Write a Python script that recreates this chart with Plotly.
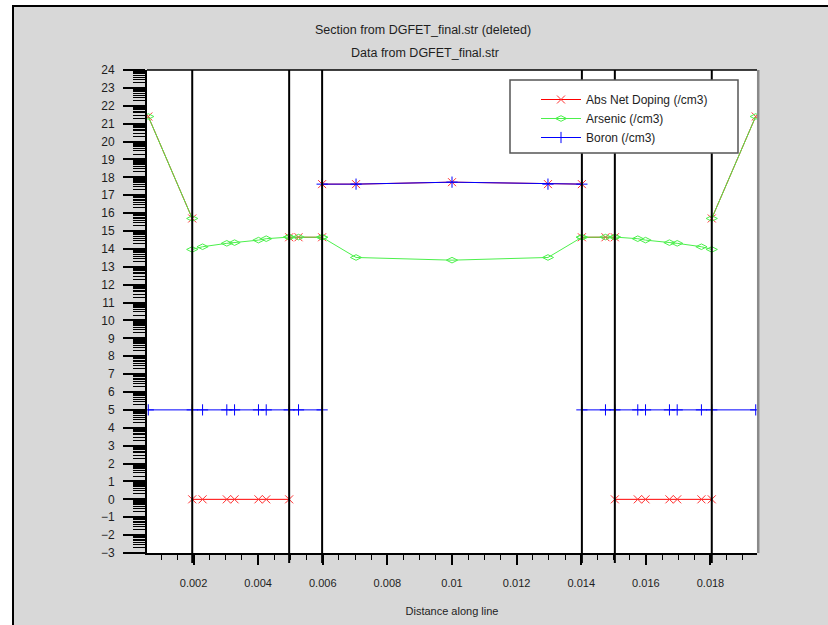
import math
import plotly.graph_objects as go

# ---------------- data (log10 concentration vs distance) ----------------
# None separates regions (breaks the polyline at region boundaries)
x_pts = [0.0006, 0.00196, None,
         0.00196, 0.00228, 0.00303, 0.00327, 0.00401, 0.00425, 0.00496, None,
         0.00496, 0.00525, 0.00598, None,
         0.00598, 0.00703, 0.0100, 0.01297, 0.01402, None,
         0.01402, 0.01475, 0.01504, None,
         0.01504, 0.01575, 0.01599, 0.01673, 0.01697, 0.01772, 0.01804, None,
         0.01804, 0.0194]

abs_net_doping = [21.4, 15.7, None,
                  0, 0, 0, 0, 0, 0, 0, None,
                  14.65, 14.65, 14.65, None,
                  17.62, 17.62, 17.73, 17.62, 17.62, None,
                  14.65, 14.65, 14.65, None,
                  0, 0, 0, 0, 0, 0, 0, None,
                  15.7, 21.4]

arsenic = [21.4, 15.7, None,
           13.97, 14.12, 14.31, 14.35, 14.49, 14.57, 14.66, None,
           14.66, 14.66, 14.65, None,
           14.65, 13.52, 13.37, 13.52, 14.65, None,
           14.65, 14.66, 14.66, None,
           14.66, 14.57, 14.49, 14.35, 14.31, 14.12, 13.97, None,
           15.7, 21.4]

x_boron = [0.0006, 0.00196, 0.00228, 0.00303, 0.00327, 0.00401, 0.00425, 0.00496, 0.00525, 0.00598, None,
           0.00598, 0.00703, 0.0100, 0.01297, 0.01402, None,
           0.01402, 0.01475, 0.01504, 0.01575, 0.01599, 0.01673, 0.01697, 0.01772, 0.01804, 0.0194]
boron = [5, 5, 5, 5, 5, 5, 5, 5, 5, 5, None,
         17.62, 17.62, 17.73, 17.62, 17.62, None,
         5, 5, 5, 5, 5, 5, 5, 5, 5, 5]

region_boundaries = [0.00196, 0.00496, 0.00598, 0.01402, 0.01504, 0.01804]

x_tickvals = [0.002, 0.004, 0.006, 0.008, 0.010, 0.012, 0.014, 0.016, 0.018]
x_ticktext = ["0.002", "0.004", "0.006", "0.008", "0.01", "0.012", "0.014", "0.016", "0.018"]
y_tickvals = list(range(-3, 25))

# ---------------- figure ----------------
W, H = 828, 625
ML, MR, MT, MB = 147, 71, 70, 72
PW, PH = W - ML - MR, H - MT - MB
FONT = "Liberation Sans, Arial, sans-serif"
TXT = "#1e1e1e"

def px(xp):
    return (xp - ML) / PW

def py(yp):
    return (H - MB - yp) / PH

fig = go.Figure()

fig.add_trace(go.Scatter(
    x=x_pts, y=abs_net_doping, name="Abs Net Doping (/cm3)", mode="lines+markers",
    line=dict(color="#ff0000", width=1),
    marker=dict(symbol="x-thin", size=8, color="#ff3030", line=dict(color="#ff3030", width=1)),
))
fig.add_trace(go.Scatter(
    x=x_pts, y=arsenic, name="Arsenic (/cm3)", mode="lines+markers",
    line=dict(color="#4cf04c", width=1),
    marker=dict(symbol="diamond-wide-open", size=8, color="#4cf04c", line=dict(color="#4cf04c", width=1)),
))
fig.add_trace(go.Scatter(
    x=x_boron, y=boron, name="Boron (/cm3)", mode="lines+markers",
    line=dict(color="#0000ff", width=1),
    marker=dict(symbol="cross-thin", size=8, color="#0000ff", line=dict(color="#0000ff", width=1)),
))

# minor log ticks on the y axis
y_minor = []
for k in range(-3, 24):
    for m in range(2, 10):
        y_minor.append(k + math.log10(m))

shapes = []
# white margin outside the window frame
shapes.append(dict(type="rect", xref="paper", yref="paper", x0=px(-5), x1=px(12), y0=py(H + 5), y1=py(-5),
                   fillcolor="white", line=dict(width=0), layer="below"))
shapes.append(dict(type="rect", xref="paper", yref="paper", x0=px(-5), x1=px(W + 5), y0=py(5), y1=py(-5),
                   fillcolor="white", line=dict(width=0), layer="below"))
# window frame lines
shapes.append(dict(type="line", xref="paper", yref="paper", x0=px(12), x1=px(W + 5), y0=py(6), y1=py(6),
                   line=dict(color="black", width=2)))
shapes.append(dict(type="line", xref="paper", yref="paper", x0=px(13), x1=px(13), y0=py(5), y1=py(H + 5),
                   line=dict(color="black", width=2)))
# plot frame: top black, right gray
shapes.append(dict(type="line", xref="paper", yref="paper", x0=0, x1=1, y0=1, y1=1,
                   line=dict(color="black", width=1.5)))
shapes.append(dict(type="line", xref="paper", yref="paper", x0=1.002, x1=1.002, y0=0, y1=1,
                   line=dict(color="#8a8a8a", width=2.5)))
# region boundaries
for b in region_boundaries:
    shapes.append(dict(type="line", xref="x", yref="paper", x0=b, x1=b, y0=py(563), y1=1,
                       line=dict(color="black", width=2), layer="above"))
# legend frame (the legend entries are drawn on top of it)
shapes.append(dict(type="rect", xref="paper", yref="paper", x0=px(510), x1=px(738), y0=py(153), y1=py(80),
                   fillcolor="white", line=dict(color="#555555", width=1.5), layer="above"))

fig.update_layout(
    width=W, height=H,
    margin=dict(l=ML, r=MR, t=MT, b=MB, autoexpand=False),
    paper_bgcolor="#d8d8d8",
    plot_bgcolor="white",
    font=dict(family=FONT, size=11, color=TXT),
    shapes=shapes,
    showlegend=True,
    legend=dict(
        x=px(536), y=py(85), xanchor="left", yanchor="top",
        bgcolor="rgba(0,0,0,0)", borderwidth=0,
        font=dict(family=FONT, size=12, color=TXT),
        itemwidth=40, tracegroupgap=0,
    ),
    annotations=[
        dict(text="Section from DGFET_final.str (deleted)", xref="paper", yref="paper",
             x=px(423), y=py(30), xanchor="center", yanchor="middle", showarrow=False,
             font=dict(family=FONT, size=12.5, color=TXT)),
        dict(text="Data from DGFET_final.str", xref="paper", yref="paper",
             x=px(425), y=py(53), xanchor="center", yanchor="middle", showarrow=False,
             font=dict(family=FONT, size=12.5, color=TXT)),
    ],
)

fig.update_xaxes(
    range=[0.00056, 0.01944], showgrid=False, zeroline=False,
    showline=True, linecolor="black", linewidth=2,
    tickmode="array", tickvals=x_tickvals, ticktext=x_ticktext,
    ticks="outside", ticklen=10, tickwidth=2, tickcolor="black",
    ticklabelstandoff=9,
    tickfont=dict(family=FONT, size=11, color=TXT),
    minor=dict(ticks="outside", ticklen=5, tickwidth=1, tickcolor="black",
               tickmode="linear", tick0=0, dtick=0.0005, showgrid=False),
    title=dict(text="Distance along line", font=dict(family=FONT, size=11, color=TXT), standoff=19),
    automargin=False,
)
fig.update_yaxes(
    range=[-3, 24], showgrid=False, zeroline=False,
    showline=True, linecolor="black", linewidth=2,
    tickmode="array", tickvals=y_tickvals,
    ticks="outside", ticklen=22, tickwidth=2, tickcolor="black",
    ticklabelstandoff=6,
    tickfont=dict(family=FONT, size=12, color=TXT),
    minor=dict(ticks="outside", ticklen=12, tickwidth=1, tickcolor="black",
               tickmode="array", tickvals=y_minor, showgrid=False),
    automargin=False,
)

fig.write_html("out.html")
